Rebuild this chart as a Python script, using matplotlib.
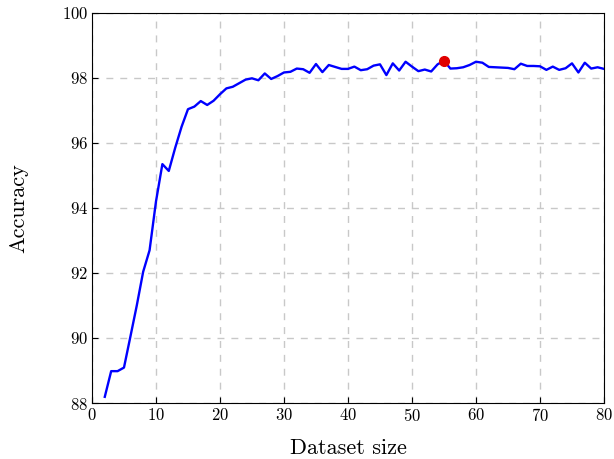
import numpy as np
import matplotlib
matplotlib.use("Agg")
import matplotlib.pyplot as plt

plt.rcParams['font.family'] = 'cmr10'
plt.rcParams['mathtext.fontset'] = 'cm'
plt.rcParams['axes.formatter.use_mathtext'] = True

# dataset size vs accuracy
sizes = list(range(2, 81))
accuracy = [
    88.19, 88.98, 88.98, 89.09, 90.04, 91.0, 92.04, 92.7, 94.2,        # 2-10
    95.35, 95.14, 95.85, 96.5, 97.04, 97.12, 97.29, 97.17, 97.3, 97.5,  # 11-20
    97.68, 97.73, 97.84, 97.95, 97.99, 97.93, 98.14, 97.97, 98.06, 98.17,  # 21-30
    98.19, 98.29, 98.27, 98.16, 98.43, 98.18, 98.4, 98.34, 98.28, 98.28,  # 31-40
    98.35, 98.24, 98.27, 98.38, 98.42, 98.09, 98.45, 98.23, 98.5, 98.35,  # 41-50
    98.21, 98.26, 98.2, 98.42, 98.53, 98.29, 98.3, 98.33, 98.4, 98.5,     # 51-60
    98.47, 98.34, 98.33, 98.32, 98.31, 98.27, 98.44, 98.37, 98.37, 98.36,  # 61-70
    98.25, 98.35, 98.25, 98.3, 98.45, 98.17, 98.47, 98.29, 98.33, 98.28,  # 71-80
]
best_x = 55
best_y = accuracy[sizes.index(best_x)]

fig = plt.figure(figsize=(6.14, 4.59), dpi=100)
ax = fig.add_axes([0.1498, 0.122, 0.8339, 0.8497])

ax.plot(sizes, accuracy, color='#0000ff', lw=1.7, zorder=3)
ax.plot([best_x], [best_y], 'o', color='#e00000', ms=7, zorder=4)

ax.set_xlim(0, 80)
ax.set_ylim(88, 100)
ax.set_xticks(np.arange(0, 81, 10))
ax.set_yticks(np.arange(88, 101, 2))
ax.grid(True, color='#c8c8c8', ls=(0, (5, 5)), lw=1.0)
ax.tick_params(direction='in', length=4, labelsize=12, pad=3)
for s in ax.spines.values():
    s.set_linewidth(0.8)

ax.set_xlabel('Dataset size', fontsize=16, labelpad=10)
ax.set_ylabel('Accuracy', fontsize=16, labelpad=24)

fig.savefig('out.png', dpi=100)
